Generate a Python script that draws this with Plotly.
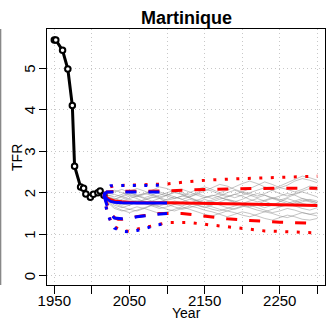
import plotly.graph_objects as go

# ---------------- data ----------------
obs_years = [1950, 1952, 1961, 1968, 1974, 1977, 1985, 1989, 1992, 1998, 2002, 2008, 2011, 2016]
obs_tfr = [5.68, 5.68, 5.43, 4.98, 4.10, 2.64, 2.14, 2.11, 1.97, 1.89, 1.96, 2.00, 2.04, 1.94]

traj_years = [2016] + list(range(2020, 2301, 10))
tr01 = [1.94, 1.88, 1.80, 1.74, 1.70, 1.76, 1.84, 1.90, 1.86, 1.78, 1.72, 1.68, 1.74, 1.82, 1.88, 1.94, 1.90, 1.82, 1.76, 1.70, 1.66, 1.72, 1.80, 1.86, 1.92, 1.98, 1.94, 1.86, 1.80, 1.76]
tr02 = [1.94, 1.96, 2.02, 2.08, 2.00, 1.94, 1.98, 2.06, 2.14, 2.10, 2.02, 1.96, 1.90, 1.96, 2.04, 2.12, 2.20, 2.16, 2.08, 2.02, 2.10, 2.18, 2.26, 2.20, 2.12, 2.18, 2.28, 2.34, 2.30, 2.24]
tr03 = [1.94, 1.78, 1.62, 1.56, 1.60, 1.66, 1.62, 1.56, 1.50, 1.54, 1.60, 1.66, 1.60, 1.54, 1.48, 1.44, 1.50, 1.56, 1.52, 1.46, 1.42, 1.48, 1.54, 1.50, 1.44, 1.40, 1.46, 1.52, 1.48, 1.44]
tr04 = [1.94, 1.86, 1.84, 1.90, 1.96, 1.92, 1.86, 1.80, 1.86, 1.94, 2.00, 1.96, 1.88, 1.82, 1.76, 1.82, 1.88, 1.84, 1.78, 1.84, 1.92, 1.98, 1.94, 1.86, 1.80, 1.74, 1.80, 1.86, 1.82, 1.76]
tr05 = [1.94, 1.82, 1.70, 1.64, 1.70, 1.78, 1.74, 1.68, 1.62, 1.66, 1.72, 1.78, 1.84, 1.80, 1.72, 1.66, 1.60, 1.56, 1.62, 1.68, 1.64, 1.58, 1.54, 1.60, 1.66, 1.72, 1.68, 1.62, 1.58, 1.64]
tr06 = [1.94, 1.92, 1.96, 1.90, 1.84, 1.78, 1.82, 1.88, 1.94, 2.00, 2.06, 2.00, 1.94, 2.00, 2.08, 2.04, 1.96, 1.90, 1.96, 2.02, 1.98, 1.92, 1.98, 2.06, 2.12, 2.08, 2.02, 2.08, 2.16, 2.12]
tr07 = [1.94, 1.84, 1.74, 1.66, 1.60, 1.56, 1.62, 1.70, 1.76, 1.72, 1.66, 1.60, 1.64, 1.70, 1.66, 1.60, 1.56, 1.62, 1.68, 1.74, 1.70, 1.64, 1.58, 1.52, 1.56, 1.62, 1.58, 1.52, 1.48, 1.52]
tr08 = [1.94, 1.90, 1.86, 1.80, 1.86, 1.92, 1.98, 1.94, 1.88, 1.82, 1.86, 1.92, 1.88, 1.80, 1.74, 1.78, 1.84, 1.90, 1.96, 1.92, 1.84, 1.78, 1.82, 1.88, 1.84, 1.78, 1.72, 1.78, 1.84, 1.80]
tr09 = [1.94, 1.98, 2.06, 2.00, 1.94, 1.90, 1.96, 2.02, 1.98, 1.92, 1.86, 1.92, 2.00, 2.08, 2.14, 2.08, 2.00, 2.06, 2.14, 2.22, 2.28, 2.22, 2.14, 2.08, 2.16, 2.24, 2.32, 2.40, 2.36, 2.30]
tr10 = [1.94, 1.80, 1.66, 1.58, 1.52, 1.58, 1.64, 1.70, 1.66, 1.60, 1.56, 1.62, 1.68, 1.64, 1.58, 1.54, 1.48, 1.42, 1.48, 1.54, 1.50, 1.44, 1.38, 1.34, 1.40, 1.46, 1.42, 1.36, 1.34, 1.38]
tr11 = [1.94, 1.88, 1.78, 1.84, 1.92, 1.86, 1.78, 1.72, 1.78, 1.84, 1.90, 1.84, 1.76, 1.70, 1.64, 1.70, 1.78, 1.84, 1.80, 1.74, 1.80, 1.86, 1.80, 1.72, 1.66, 1.70, 1.76, 1.82, 1.78, 1.72]
tr12 = [1.94, 1.94, 1.90, 1.96, 2.04, 2.10, 2.04, 1.96, 1.90, 1.94, 2.02, 2.08, 2.02, 1.94, 1.88, 1.92, 1.98, 1.94, 1.88, 1.94, 2.00, 2.06, 2.12, 2.06, 1.98, 1.92, 1.98, 2.04, 2.10, 2.06]
tr13 = [1.94, 1.86, 1.76, 1.70, 1.76, 1.82, 1.78, 1.72, 1.68, 1.74, 1.80, 1.76, 1.70, 1.76, 1.84, 1.78, 1.70, 1.64, 1.60, 1.66, 1.74, 1.70, 1.64, 1.70, 1.78, 1.86, 1.80, 1.74, 1.70, 1.68]
tr14 = [1.94, 1.90, 1.84, 1.92, 2.00, 1.94, 1.88, 1.94, 2.02, 1.96, 1.90, 1.84, 1.90, 1.98, 1.92, 1.86, 1.92, 2.00, 2.06, 2.00, 1.94, 1.88, 1.94, 1.88, 1.82, 1.88, 1.96, 2.02, 1.96, 1.90]
trajectories = [tr01, tr02, tr03, tr04, tr05, tr06, tr07, tr08, tr09, tr10, tr11, tr12, tr13, tr14]

# long projection (red), to 2300
red_med_years = [2016, 2020, 2025, 2030, 2040, 2060, 2100, 2150, 2200, 2250, 2300]
red_med = [1.94, 1.88, 1.83, 1.80, 1.78, 1.76, 1.76, 1.75, 1.73, 1.71, 1.69]
red_u80_years = [2016, 2020, 2030, 2100, 2150, 2200, 2250, 2300]
red_u80 = [1.94, 2.02, 2.03, 2.04, 2.08, 2.10, 2.11, 2.11]
red_l80_years = [2016, 2020, 2025, 2030, 2035, 2040, 2050, 2070, 2090, 2120, 2150, 2180, 2210, 2250, 2300]
red_l80 = [1.94, 1.72, 1.50, 1.40, 1.36, 1.36, 1.40, 1.45, 1.50, 1.50, 1.44, 1.37, 1.33, 1.29, 1.26]
red_u95_years = [2016, 2020, 2030, 2060, 2100, 2130, 2160, 2200, 2250, 2300]
red_u95 = [1.94, 2.12, 2.17, 2.18, 2.21, 2.27, 2.31, 2.34, 2.37, 2.40]
red_l95_years = [2016, 2020, 2025, 2030, 2040, 2050, 2060, 2080, 2100, 2130, 2160, 2180, 2200, 2230, 2260, 2300]
red_l95 = [1.94, 1.58, 1.32, 1.18, 1.08, 1.07, 1.12, 1.20, 1.28, 1.28, 1.22, 1.17, 1.13, 1.08, 1.06, 1.03]

# short projection (blue), to 2100
blue_years = [2016, 2020, 2025, 2030, 2040, 2050, 2060, 2070, 2085, 2100]
blue_med = [1.94, 1.85, 1.79, 1.77, 1.76, 1.75, 1.75, 1.75, 1.75, 1.75]
blue_u80 = [1.94, 2.02, 2.02, 2.02, 2.02, 2.02, 2.02, 2.02, 2.02, 2.02]
blue_l80 = [1.94, 1.70, 1.48, 1.39, 1.37, 1.38, 1.42, 1.45, 1.48, 1.50]
blue_u95 = [1.94, 2.12, 2.17, 2.17, 2.18, 2.18, 2.18, 2.18, 2.18, 2.18]
blue_l95 = [1.94, 1.55, 1.30, 1.15, 1.07, 1.06, 1.09, 1.13, 1.22, 1.26]

x_ticks = [1950, 2000, 2050, 2100, 2150, 2200, 2250, 2300]
x_ticklabels = ["1950", "", "2050", "", "2150", "", "2250", ""]
y_ticks = [0, 1, 2, 3, 4, 5]
y_ticklabels = ["0", "1", "2", "3", "4", "5"]
title_text = "Martinique"
xlab = "Year"
ylab = "TFR"

# ---------------- figure ----------------
FONT = "Liberation Sans, Arial, Helvetica, sans-serif"
fig = go.Figure()

for tr in trajectories:
    fig.add_trace(go.Scatter(x=traj_years, y=tr, mode="lines",
                             line=dict(color="rgba(140,140,140,0.5)", width=1),
                             hoverinfo="skip", showlegend=False))

fig.add_trace(go.Scatter(x=obs_years, y=obs_tfr, mode="lines+markers",
                         line=dict(color="black", width=3),
                         marker=dict(symbol="circle", size=5.5, color="white",
                                     line=dict(color="black", width=2)),
                         showlegend=False))

DOT = "3px,8.5px"
DASH = "11px,12px"
for yrs, vals, dash in [(red_u95_years, red_u95, DOT), (red_l95_years, red_l95, DOT),
                        (red_u80_years, red_u80, DASH), (red_l80_years, red_l80, DASH),
                        (red_med_years, red_med, "solid")]:
    fig.add_trace(go.Scatter(x=yrs, y=vals, mode="lines",
                             line=dict(color="#ff0000", width=3, dash=dash),
                             showlegend=False))

for vals, dash in [(blue_u95, DOT), (blue_l95, DOT), (blue_u80, DASH),
                   (blue_l80, DASH), (blue_med, "solid")]:
    fig.add_trace(go.Scatter(x=blue_years, y=vals, mode="lines",
                             line=dict(color="#0000ff", width=3, dash=dash),
                             showlegend=False))

annotations = [
    dict(text="<b>" + title_text + "</b>", x=0.5, y=1.043, xref="paper", yref="paper",
         xanchor="center", yanchor="middle", showarrow=False, font=dict(size=18)),
    dict(text=xlab, x=0.5, y=-0.109, xref="paper", yref="paper",
         xanchor="center", yanchor="middle", showarrow=False, font=dict(size=14)),
    dict(text=ylab, x=-0.108, y=0.5, xref="paper", yref="paper", textangle=-90,
         xanchor="center", yanchor="middle", showarrow=False, font=dict(size=14)),
]
for v, lab in zip(y_ticks, y_ticklabels):
    annotations.append(dict(text=lab, x=-0.063, y=v, xref="paper", yref="y",
                            textangle=-90, xanchor="center", yanchor="middle",
                            showarrow=False, font=dict(size=15)))

fig.update_layout(
    width=326, height=320,
    margin=dict(l=47, r=1, t=29, b=35, pad=0),
    paper_bgcolor="white", plot_bgcolor="white",
    font=dict(family=FONT, color="black", size=15),
    showlegend=False,
    xaxis=dict(range=[1940.3, 2310.2], tickmode="array", tickvals=x_ticks,
               ticktext=x_ticklabels, ticks="outside", ticklen=8, tickwidth=1,
               tickcolor="black", showline=True, linecolor="black", linewidth=1,
               mirror=True, showgrid=True, gridcolor="#c8c8c8", gridwidth=1,
               griddash="1px,3px", zeroline=False, tickfont=dict(size=15),
               ticklabelstandoff=-6),
    yaxis=dict(range=[-0.224, 5.945], tickmode="array", tickvals=y_ticks,
               ticks="outside", ticklen=7, tickwidth=1, tickcolor="black",
               showline=True, linecolor="black", linewidth=1, mirror=True,
               showgrid=True, gridcolor="#c8c8c8", gridwidth=1,
               griddash="1px,3px", zeroline=False, showticklabels=False),
    annotations=annotations,
    shapes=[dict(type="line", xref="paper", yref="paper", x0=-0.167, x1=-0.167,
                 y0=0, y1=1, line=dict(color="#888888", width=1.5))],
)

fig.write_html("out.html", config={"displayModeBar": False},
               post_script="document.body.style.margin='0px';document.body.style.overflow='hidden';")
